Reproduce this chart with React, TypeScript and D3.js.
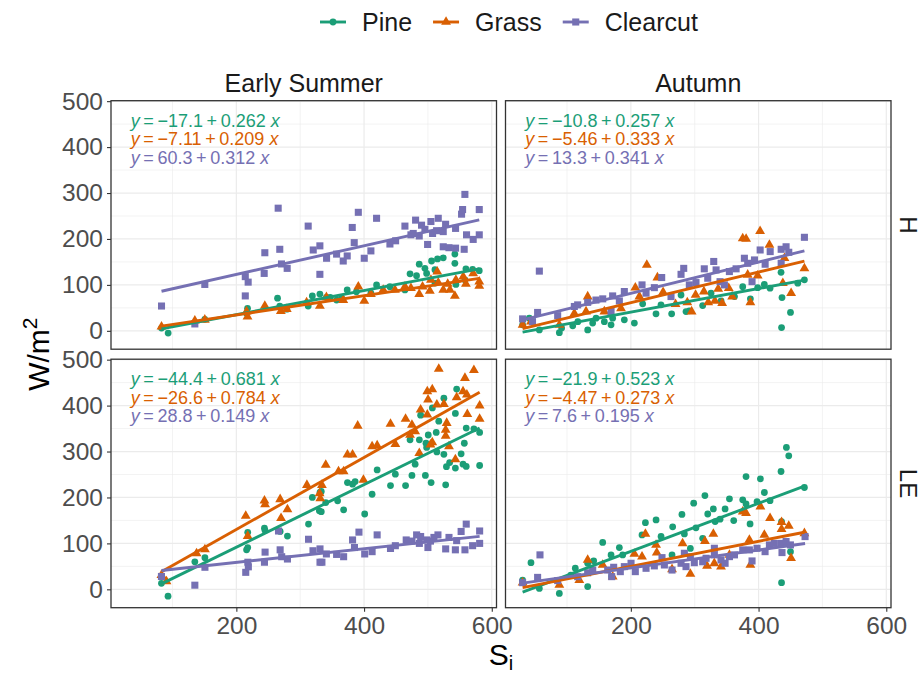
import React, { useEffect, useRef } from 'react';
import * as d3 from 'd3';

type Pt = [number, number];

const sites = ['Pine', 'Grass', 'Clearcut'];
const siteColors = ['#1B9E77', '#D95F02', '#7570B3'];
const seasons = ['Early Summer', 'Autumn'];
const fluxes = ['H', 'LE'];

const xTicks = [200, 400, 600];
const xMinor = [100, 300, 500];
const yTicks = [0, 100, 200, 300, 400, 500];
const yMinor = [50, 150, 250, 350, 450];

// Early Summer, H
const esHPine: Pt[] = [[82.8,6],[93.2,-5],[150.6,25],[216,38],[217.5,49],[264.5,71],[268,54],[279,47],[312.5,54],[319,76],[330.8,80],[341,73],[347,73],[357,67],[364.8,71],[373.6,89],[388,85],[410.7,82],[419.6,100],[440.5,96],[464,89],[472,124],[482.2,120],[486.4,145],[495.3,136],[498,125],[505.7,152],[511,133],[511,104],[515,156.5],[524,159],[542.2,167],[542.2,147],[543.8,101],[558,111],[559.5,135],[570,134],[580.4,131]];
const esHGrass: Pt[] = [[82.8,9],[135,22],[150.6,24],[216,42],[217.5,31],[244.6,54],[269.7,43],[279,47],[310,62],[330.8,54],[341,73],[367.4,67],[391,96],[400.3,65],[410.7,80],[430,89],[448.4,89],[464,96],[473.4,93],[486.4,80],[491.6,96],[503,87],[504.7,111],[514.6,129],[516.2,105],[524,89],[531,102],[534.5,89],[542.2,76],[543.8,111],[555.3,118],[559.5,102],[570.9,125],[580.4,107],[580.4,98]];
const esHClear: Pt[] = [[82.8,54],[135,15],[150.6,101],[214,118],[218.5,106],[214,76],[244.6,170],[243.6,125],[265.5,267],[268,177.5],[270.7,145.6],[279.6,136],[312.5,228],[320.4,176],[330.8,185],[330.8,123],[341.3,158],[357,167],[367.4,152],[373.6,163],[381.5,225],[384.6,192],[391,258],[400.3,158],[410.7,174],[419.6,245],[440.5,189],[449.4,196],[464,228],[473.4,209],[477,212],[480.7,241],[486.4,206.5],[490,230],[495.3,221],[499.5,188],[504.7,238],[507.3,212],[513.6,218],[516.2,245],[524,216],[524,183],[527.7,232],[532.9,181],[543.3,223],[543.3,180],[552.7,254],[554.3,264],[556.8,177.5],[557.9,297],[560.5,209],[570.9,199],[580.4,264],[580.4,209]];

// Autumn, H
const auHPine: Pt[] = [[30.5,13],[41,27.5],[56.7,2],[88,-4],[91.6,6],[109,11],[117,20],[132.4,2],[140.2,17],[145.5,27.5],[158.5,20],[169,13],[171.5,27.5],[189.8,24],[205.5,17],[218.5,58.7],[239.4,37],[247.2,56.5],[263.9,37],[278.6,78],[286.4,42],[291.6,43.5],[312.5,55],[325.6,82],[341.3,65],[362.3,74.6],[375.2,96],[387.2,69.6],[398.6,94],[409,101],[418,92.8],[435.2,127.5],[436.7,72.5],[436,7],[450,40],[461.4,103.6],[471.8,111]];
const auHGrass: Pt[] = [[30.5,13],[43.6,20],[88,13],[111.5,38],[129.8,42],[132.4,74.6],[158.5,42],[184.6,49],[207,94],[213.4,74.6],[225,143.5],[241.6,116],[250.5,84],[270,58],[288.4,62],[295.2,42],[301.4,78],[314.4,85.5],[321.2,62],[331.6,65],[336.8,91],[343,60],[353.3,93],[358.6,74.6],[375.2,201],[380.5,200],[383,122],[387.2,62],[398.6,120],[402.4,217],[417,187],[438,103.6],[440.6,158],[451,82],[471.8,136]];
const auHClear: Pt[] = [[30.5,26],[46,20],[54,40],[56.7,130],[85.4,33],[111.5,53],[116.7,56.5],[132.4,62],[145.4,67],[156,69.6],[169,42],[171.5,76],[182,65],[189.8,85.5],[217.5,100],[223.8,82],[236.8,94],[248.3,116],[262.9,74.6],[278.6,123],[282.8,136],[291.6,100],[302,105],[315,135],[320.4,114.5],[329.8,151],[333.5,132.6],[339.7,107],[346.5,100],[354.3,129],[364.8,135],[377.8,158],[383,147],[389.8,107],[393.6,154.3],[402.5,176],[410.3,145],[418.2,172.5],[435.4,177.5],[435.4,147],[443.1,183],[447.3,171],[471.8,203.6]];

// Early Summer, LE
const esLEPine: Pt[] = [[82.7,13],[93,-15],[135,60],[150.8,69],[216,86],[217.8,91],[217.8,124],[244,133],[245,128],[268.6,126],[280,116],[313,142],[319,200],[330,171],[331,211],[333,213],[333,169],[340,189],[358.6,192.6],[368,173],[374,232.5],[382,229],[386,234.7],[401,164],[412.6,207],[420.5,260],[441.4,226],[449,250.7],[465,226],[472,325.6],[475,248],[480,272.5],[486.6,325.6],[488.6,379],[496,248],[497,318],[498,309],[500.5,336],[505,232.5],[507,395],[513,341.5],[514,299],[517,366],[525,416],[525,294],[527.8,227.5],[529,267],[534,276],[543,383],[543,264],[545,436],[552,295],[555,272.5],[557,318],[560,351],[560,267.5],[572,349.5],[581,341.5],[581,269.6]];
const esLEGrass: Pt[] = [[82.7,31],[90.6,17],[137.7,78],[150.8,87],[214.7,160],[217.8,116],[244,193],[245,185],[268.6,196],[270,155],[280,174],[310.5,227],[330.4,209],[331.4,198],[334,227],[340,271],[360,256.5],[368,256.5],[374,293],[382,293],[390,356],[399,238],[412.6,311],[420.5,313],[441.4,360],[449,316],[465,371],[472,336],[475,358],[480,344],[486.5,296.5],[488.6,391],[499,431],[499,380],[500.2,413],[504,315],[506.8,435],[506.8,320],[514,402],[517,480],[525,403],[527.8,347],[527.8,334],[529.4,362],[533,311],[543,283],[545,418],[555,431],[558,460],[561,424],[561.7,381.5],[572,477],[581,400],[581,371]];
const esLEClear: Pt[] = [[82.7,28],[135,9],[150.8,48],[214.7,37],[218.8,49],[218,59],[244,59],[245,81],[266,127],[268.6,86],[271,71],[280,66],[313,109],[320,84],[331,88],[331,59],[334,59],[341,77],[357,76],[368,71],[382,107.5],[385,91],[392,124.5],[401,77],[412.6,82],[420.5,118.5],[441.4,89],[449,95],[466,107.5],[475,105],[482.3,118.5],[486.6,100],[488.6,115],[498,107.5],[500,91],[504,105],[509.4,113],[515.7,118.5],[527.8,88],[533,113],[543,86],[545,106],[552,126],[558,86],[560,142],[570,95],[581,127],[581,100]];

// Autumn, LE
const auLEPine: Pt[] = [[30.5,20],[43.6,58],[56.7,2],[88,-9],[106,31],[113,46],[132.4,6],[132.4,57],[141.8,62],[155.9,102],[169,75],[170,28],[182,91],[187.2,75],[217.5,118.5],[222.8,145],[239.5,151],[247.3,115],[264.5,75],[265.5,136],[280,163],[283.8,120.6],[293.2,89],[298.4,187.5],[302,134],[312.5,111],[316,204],[320.4,164],[329.2,175],[332,147.5],[339.7,152.6],[347.6,175],[354.4,197],[361.1,149.7],[375.2,194.8],[380.4,245.6],[380.4,186],[386.7,142.4],[397.6,191],[402.9,240.5],[409.1,210.8],[418,193],[435.2,256.5],[436,14.5],[436,147.5],[443.6,309],[447.3,290.7],[450,82],[471.8,221.7]];
const auLEGrass: Pt[] = [[30.5,14.5],[88,9.5],[119.3,20],[132.4,64],[155.9,53],[171.6,27.6],[205.5,77],[217.5,71],[222.8,120.6],[239.5,96.7],[240.6,80],[264.5,43.6],[281,100],[293.2,33.4],[316,105],[319.3,51],[329.2,120.6],[330.7,56.7],[341.2,49.4],[354.4,75],[375.2,169],[380.4,165.7],[385.6,107.6],[387.2,53],[402.9,180.2],[409.1,118.5],[418,155],[436,146],[436,131],[447.3,138],[450.9,67.6],[471.8,122]];
const auLEClear: Pt[] = [[30.5,14.5],[54,26],[57.7,75],[85.4,19],[116.7,27.6],[132.4,36],[140.3,42],[163.7,42],[170,27.6],[173.1,48],[183.5,38.5],[189.8,49.4],[200.3,56.7],[207,38.5],[223.8,45.8],[236.8,51],[248.8,69],[252.5,53],[264.5,42],[278.6,56.7],[283.8,78.5],[286.4,49.4],[293.2,71],[299.4,58],[312.5,60],[317.8,67.6],[330.8,89.4],[330.8,75],[341.2,64],[347.6,56.7],[354.4,71.2],[362.3,75],[375.2,85.8],[385.6,85.8],[389.8,61.8],[397.6,89.4],[410.2,82],[417,96.7],[424.8,100],[436.7,80],[436,100],[443.1,104],[449.9,96.7],[472.8,114.8]];

// fitted lines (intercept, slope) as printed in each panel
const esHFit = [[-17.1, 0.262], [-7.11, 0.209], [60.3, 0.312]];
const auHFit = [[-10.8, 0.257], [-5.46, 0.333], [13.3, 0.341]];
const esLEFit = [[-44.4, 0.681], [-26.6, 0.784], [28.8, 0.149]];
const auLEFit = [[-21.9, 0.523], [-4.47, 0.273], [7.6, 0.195]];

const panels = [
  { col: 0, row: 0, data: [esHPine, esHGrass, esHClear], fit: esHFit },
  { col: 1, row: 0, data: [auHPine, auHGrass, auHClear], fit: auHFit },
  { col: 0, row: 1, data: [esLEPine, esLEGrass, esLEClear], fit: esLEFit },
  { col: 1, row: 1, data: [auLEPine, auLEGrass, auLEClear], fit: auLEFit },
];

const FONT = '"Liberation Sans", Arial, Helvetica, sans-serif';

export default function App() {
  const ref = useRef<SVGSVGElement>(null);

  useEffect(() => {
    const svg = d3.select(ref.current);
    svg.selectAll('*').remove();
    svg.style('font-family', FONT);

    const colX = [111, 505.5];
    const rowY = [100.7, 359.2];
    const panelW = 385.5;
    const panelH = 248.5;

    const x = d3.scaleLinear().domain([3.7, 607.4]).range([0, panelW]);
    const y = d3.scaleLinear().domain([-40, 501]).range([panelH, 0]);

    const shapes = [
      d3.symbol().type(d3.symbolCircle).size(36),
      d3.symbol().type(d3.symbolTriangle).size(42),
      d3.symbol().type(d3.symbolSquare).size(50),
    ];

    const fmt = (v: number) => String(v).replace('-', '\u2212');
    const thin = '\u2009';

    panels.forEach((p) => {
      const g = svg.append('g')
        .attr('transform', `translate(${colX[p.col]},${rowY[p.row]})`);

      g.append('rect').attr('width', panelW).attr('height', panelH).attr('fill', '#fff');

      // grid
      g.selectAll('.vmin').data(xMinor).enter().append('line')
        .attr('x1', (d) => x(d)).attr('x2', (d) => x(d)).attr('y1', 0).attr('y2', panelH)
        .attr('stroke', '#ebebeb').attr('stroke-width', 0.6);
      g.selectAll('.hmin').data(yMinor).enter().append('line')
        .attr('y1', (d) => y(d)).attr('y2', (d) => y(d)).attr('x1', 0).attr('x2', panelW)
        .attr('stroke', '#ebebeb').attr('stroke-width', 0.6);
      g.selectAll('.vmaj').data(xTicks).enter().append('line')
        .attr('x1', (d) => x(d)).attr('x2', (d) => x(d)).attr('y1', 0).attr('y2', panelH)
        .attr('stroke', '#ebebeb').attr('stroke-width', 1.2);
      g.selectAll('.hmaj').data(yTicks).enter().append('line')
        .attr('y1', (d) => y(d)).attr('y2', (d) => y(d)).attr('x1', 0).attr('x2', panelW)
        .attr('stroke', '#ebebeb').attr('stroke-width', 1.2);

      // points
      p.data.forEach((pts, i) => {
        g.append('g').selectAll('path').data(pts).enter().append('path')
          .attr('d', shapes[i])
          .attr('transform', (d) => `translate(${x(d[0])},${y(d[1])})`)
          .attr('fill', siteColors[i]);
      });

      // regression lines over each group's x range
      p.fit.forEach(([a, b], i) => {
        const [x0, x1] = d3.extent(p.data[i], (d) => d[0]) as [number, number];
        g.append('line')
          .attr('x1', x(x0)).attr('y1', y(a + b * x0))
          .attr('x2', x(x1)).attr('y2', y(a + b * x1))
          .attr('stroke', siteColors[i]).attr('stroke-width', 2.9);
      });

      // equation labels
      p.fit.forEach(([a, b], i) => {
        const t = g.append('text')
          .attr('x', 19.7).attr('y', 26 + i * 18.5)
          .attr('font-size', 18).attr('fill', siteColors[i])
          .style('white-space', 'pre');
        t.append('tspan').attr('font-style', 'italic').text('y');
        t.append('tspan').text(`${thin}=${thin}${fmt(a)}${thin}+${thin}${fmt(b)} `);
        t.append('tspan').attr('font-style', 'italic').text('x');
      });

      g.append('rect').attr('width', panelW).attr('height', panelH)
        .attr('fill', 'none').attr('stroke', '#333').attr('stroke-width', 1.3);

      // axes
      if (p.col === 0) {
        const ax = g.append('g').call(d3.axisLeft(y).tickValues(yTicks).tickSize(4).tickPadding(4));
        ax.select('.domain').remove();
        ax.selectAll('line').attr('stroke', '#333').attr('stroke-width', 1.1);
        ax.selectAll('text').attr('font-size', 24.5).attr('fill', '#4d4d4d').attr('font-family', FONT);
      }
      if (p.row === 1) {
        const ax = g.append('g').attr('transform', `translate(0,${panelH})`)
          .call(d3.axisBottom(x).tickValues(xTicks).tickSize(4).tickPadding(5));
        ax.select('.domain').remove();
        ax.selectAll('line').attr('stroke', '#333').attr('stroke-width', 1.1);
        ax.selectAll('text').attr('font-size', 24.5).attr('fill', '#4d4d4d').attr('font-family', FONT);
      }
    });

    // strip labels
    seasons.forEach((s, c) => {
      svg.append('text').attr('x', colX[c] + panelW / 2).attr('y', 91.5)
        .attr('text-anchor', 'middle').attr('font-size', 25).attr('fill', '#1a1a1a').text(s);
    });
    fluxes.forEach((f, r) => {
      svg.append('text')
        .attr('transform', `translate(900,${rowY[r] + panelH / 2}) rotate(90)`)
        .attr('text-anchor', 'middle').attr('font-size', 24).attr('fill', '#1a1a1a').text(f);
    });

    // axis titles
    const yt = svg.append('text')
      .attr('transform', `translate(49,${(rowY[0] + rowY[1] + panelH) / 2}) rotate(-90)`)
      .attr('text-anchor', 'middle').attr('font-size', 30).attr('fill', '#000');
    yt.append('tspan').text('W/m');
    yt.append('tspan').attr('font-size', 21).attr('dy', -12).text('2');

    const xt = svg.append('text')
      .attr('x', (colX[0] + colX[1] + panelW) / 2).attr('y', 665)
      .attr('text-anchor', 'middle').attr('font-size', 30).attr('fill', '#000');
    xt.append('tspan').text('S');
    xt.append('tspan').attr('font-size', 20).attr('dy', 5).text('i');

    // legend
    const lg = svg.append('g');
    let lx = 320;
    sites.forEach((s, i) => {
      lg.append('line').attr('x1', lx).attr('x2', lx + 26).attr('y1', 22).attr('y2', 22)
        .attr('stroke', siteColors[i]).attr('stroke-width', 2.9);
      lg.append('path').attr('d', shapes[i]).attr('transform', `translate(${lx + 13},22)`)
        .attr('fill', siteColors[i]);
      const t = lg.append('text').attr('x', lx + 42).attr('y', 31)
        .attr('font-size', 25).attr('fill', '#1a1a1a').text(s);
      const w = (t.node() as SVGTextElement).getComputedTextLength();
      lx = lx + 42 + w + 21;
    });
  }, []);

  return (
    <svg
      ref={ref}
      width={922}
      height={675}
      style={{ position: 'absolute', left: 0, top: 0, background: '#fff' }}
    />
  );
}
